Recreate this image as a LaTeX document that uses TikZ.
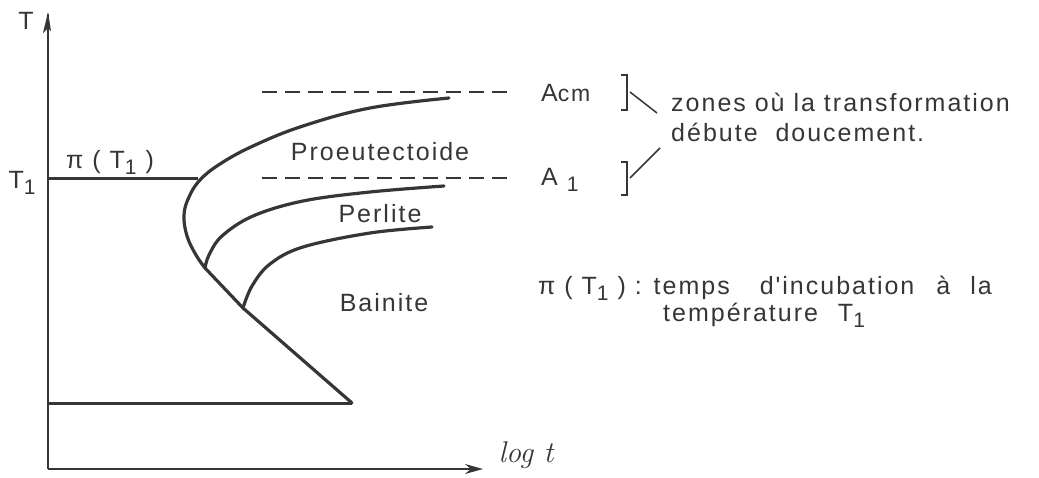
\documentclass[tikz,border=0pt]{standalone}
\usepackage{fontspec}
\setmainfont{Liberation Sans}
\newfontfamily\lab[LetterSpace=8]{Liberation Sans}
\usetikzlibrary{arrows.meta}
\definecolor{ink}{HTML}{363636}
\tikzset{
  curve/.style={draw=ink, line width=3.2pt, line cap=round, line join=round},
  axis/.style={draw=ink, line width=1.8pt},
  hline/.style={draw=ink, line width=3pt},
  dashline/.style={draw=ink, line width=1.4pt, dash pattern=on 15pt off 8pt},
  txt/.style={inner sep=0pt, text=ink, font=\lab\fontsize{25}{29}\selectfont},
  brk/.style={draw=ink, line width=1.5pt},
}
\newcommand{\sub}[1]{\raisebox{-0.45ex}{\fontsize{21}{24}\selectfont #1}}
\begin{document}
\begin{tikzpicture}[x=1pt,y=-1pt]
\useasboundingbox (0,0) rectangle (1039,477);
% axes
\coordinate (O) at (48,469);
\coordinate (ytop) at (48,14);
\coordinate (xend) at (483,469);
\draw[axis] (O) -- (ytop);
\fill[ink] (48,12) -- (43,33) -- (48,28) -- (51,31) -- cycle;
\draw[axis, -{Stealth[length=18pt,width=10pt]}] (O) -- (xend);
% T1 line and bottom line
\coordinate (t1a) at (48,178);
\coordinate (t1b) at (198,178);
\draw[hline] (t1a) -- (t1b);
\coordinate (ba) at (48,403);
\coordinate (apex) at (352,403);
\draw[hline] (ba) -- (apex);
% outer curve
\draw[curve] plot[smooth, tension=0.65] coordinates {(449,98) (370,108) (303,126) (253,146) (220,164) (200,180) (189,197) (184,215) (187,236) (196,255) (205,268)} -- (243,308) -- (apex);
% middle curve
\draw[curve] plot[smooth, tension=0.6] coordinates {(444,186) (370,192) (303,201) (253,216) (222,236) (209,255) (205,268)};
% inner curve
\draw[curve] plot[smooth, tension=0.6] coordinates {(432,227) (370,233) (303,247) (270,264) (252,286) (243,308)};
% dashed lines
\coordinate (dA) at (262,92);
\coordinate (dAe) at (512,92);
\coordinate (dB) at (262,178);
\coordinate (dBe) at (512,178);
\draw[dashline] (dA) -- (dAe);
\draw[dashline] (dB) -- (dBe);
% labels
\node[txt] (T) at (26,21) {T};
\node[txt] (T1) at (22,183) {T\sub{1}};
\node[txt] (pi) at (110,162) {π ( T\sub{1} )};
\node[txt] (pro) at (380,152) {Proeutectoide};
\node[txt] (per) at (380,214) {Perlite};
\node[txt] (bai) at (384,303) {Bainite};
\node[txt, anchor=west] (acm) at (541,93) {A{\fontsize{23}{26}\selectfont cm}};
\node[txt, anchor=west] (a1) at (541,180) {A \sub{1}};
% brackets
\draw[brk] (621,75) -- (627,75) -- (627,110) -- (621,110);
\draw[brk] (621,162) -- (627,162) -- (627,195) -- (621,195);
\coordinate (bA) at (630,92);
\coordinate (bB) at (630,178);
\node[txt, anchor=west] (z1) at (671,102) {zones où la transformation};
\node[txt, anchor=west] (z2) at (671,132) {débute \ doucement.};
\draw[brk] (bA) -- (657,113);
\draw[brk] (bB) -- (660,148);
% incubation note
\node[txt, anchor=west] (n1) at (538,288) {π ( T\sub{1} ) : temps\hspace{30pt}d'incubation\hspace{22pt}à\hspace{20pt}la};
\node[txt, anchor=west] (n2) at (663,315) {température\hspace{20pt}T\sub{1}};
% log t
\node[inner sep=0pt, text=ink, font=\fontspec{Latin Modern Roman}\itshape\fontsize{30}{34}\selectfont] (logt) at (526,455) {log t};
\end{tikzpicture}
\end{document}
